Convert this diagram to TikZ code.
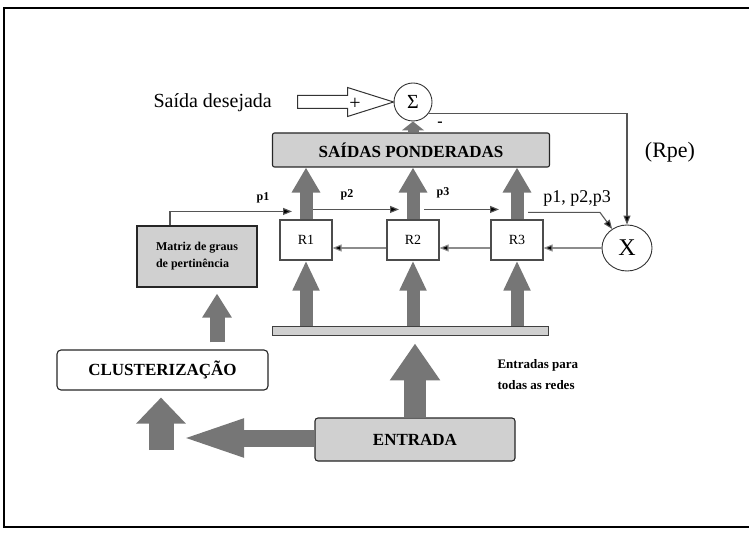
\documentclass[tikz,border=0pt]{standalone}
\usepackage{fontspec}
\setmainfont{Liberation Serif}
\usetikzlibrary{arrows.meta,shapes.geometric,calc}
\definecolor{fatgray}{RGB}{118,118,118}
\definecolor{boxgray}{RGB}{208,208,208}
\definecolor{linegray}{RGB}{85,85,85}
\begin{document}
\begin{tikzpicture}[x=1pt,y=-1pt,
  fa/.style n args={3}{draw=fatgray,line width=#1,-{Triangle[width=#2,length=#3,fill=fatgray]}},
  thinarr/.style={draw=linegray,line width=1.1pt,-{Triangle[width=7pt,length=9pt,fill=black]}},
  boxstyle/.style={draw=black!85,line width=1.1pt,inner sep=0pt},
  bigfont/.style={font=\fontsize{17}{19}\selectfont\bfseries},
  smallb/.style={font=\fontsize{12}{14}\selectfont\bfseries},
]
\useasboundingbox (0,0) rectangle (749,534);
% frame
\draw[line width=1.3pt] (749,8) -- (4,8) -- (4,527) -- (749,527);

% nodes
\node[font=\fontsize{20}{22}\selectfont,anchor=west] (sd) at (150,103) {Saída desejada};
\node[circle,draw=black!80,line width=0.9pt,minimum size=38pt,inner sep=0pt,font=\fontsize{20}{22}\selectfont] (sig) at (413,102) {Σ};
\node[boxstyle,fill=boxgray,rounded corners=2pt,minimum width=277pt,minimum height=34pt,bigfont] (sp) at (411,150) {SAÍDAS PONDERADAS};
\node[boxstyle,fill=white,draw=black!70,minimum width=52pt,minimum height=40pt,font=\fontsize{14}{16}\selectfont] (r1) at (306,240) {R1};
\node[boxstyle,fill=white,draw=black!70,minimum width=52pt,minimum height=40pt,font=\fontsize{14}{16}\selectfont] (r2) at (413,240) {R2};
\node[boxstyle,fill=white,draw=black!70,minimum width=52pt,minimum height=40pt,font=\fontsize{14}{16}\selectfont] (r3) at (517,240) {R3};
\node[ellipse,draw=black!80,line width=0.9pt,minimum width=50pt,minimum height=46pt,inner sep=0pt,font=\fontsize{24}{26}\selectfont] (X) at (627,248) {X};
\node[boxstyle,fill=boxgray,minimum width=120pt,minimum height=61pt,align=left,smallb] (matriz) at (197,256.5) {Matriz de graus\\[3pt]de pertinência};
\node[boxstyle,fill=white,rounded corners=4pt,minimum width=211pt,minimum height=40pt,bigfont] (clust) at (162.5,370) {CLUSTERIZAÇÃO};
\node[boxstyle,fill=boxgray,rounded corners=3pt,minimum width=200pt,minimum height=43pt,bigfont] (entrada) at (415,439.5) {ENTRADA};
\node[draw=black!75,line width=0.9pt,fill=boxgray,minimum width=276pt,minimum height=9pt,inner sep=0pt] (bar) at (410,330.5) {};
\node[anchor=west,align=left,font=\fontsize{13}{21}\selectfont\bfseries] (ent) at (494,375) {Entradas para\\todas as redes};

% labels
\node[smallb] (lp1) at (263,198) {p1};
\node[smallb] (lp2) at (347,195) {p2};
\node[smallb] (lp3) at (443,193) {p3};
\node[font=\fontsize{18}{20}\selectfont] (lp123) at (577,198) {p1, p2,p3};
\node[font=\fontsize{22}{24}\selectfont] (rpe) at (670,152) {(Rpe)};
\node[font=\fontsize{16}{18}\selectfont\bfseries] (minus) at (440,124) {-};

% hollow arrow to sigma
\draw[line width=1pt,draw=black!80,fill=white] (sig.west) -- ++(-46,-14.5) -- ++(0,8) -- ++(-50,0) -- ++(0,13) -- ++(50,0) -- ++(0,8) -- cycle;
\node[font=\fontsize{20}{22}\selectfont] (plus) at (355,104) {+};

% fat arrows
\draw[fa={11pt}{22pt}{9pt}] (sp.north -| sig) -- (sig.south);
\foreach \r in {r1,r2,r3}{
  \draw[fa={13pt}{27pt}{25pt}] (\r.north) -- (\r.north |- sp.south);
  \draw[fa={13pt}{25pt}{30pt}] (\r.south |- bar.north) -- (\r.south);
}
\draw[fa={22pt}{48pt}{37pt}] (entrada.north) -- ($(bar.south -| entrada)+(0,8)$);
\coordinate (lt) at (177,438);
\draw[fa={17pt}{33pt}{67pt}] (entrada.west |- lt) -- (lt);
\coordinate (cb) at (161,450);
\draw[fa={25pt}{48pt}{26pt}] (cb) -- ($(clust.south -| cb)+(0,7)$);
\coordinate (ca) at (217,0);
\draw[fa={15pt}{28pt}{24pt}] ($(clust.north -| ca)+(0,-7)$) -- ($(matriz.south -| ca)+(0,6)$);

% thin arrows
\coordinate (p1s) at (170,0);
\draw[thinarr] (matriz.north -| p1s) |- ($(r1.north)+(-14,-8)$);
\draw[thinarr] ($(r1.north)+(7,-10)$) -- ($(r2.north)+(-14,-10)$);
\draw[thinarr] ($(r2.north)+(11,-10)$) -- ($(r3.north)+(-18,-10)$);
\draw[thinarr] ($(r3.north)+(11,-7)$) -- ++(72,0) -- (X.128);
\draw[thinarr] (sig.-35) -| (X.north);
\draw[thinarr,draw=black!45] (X.west) -- (X.west -| r3.east);
\draw[thinarr,draw=black!45] (r3.west |- X.west) -- (r2.east |- X.west);
\draw[thinarr,draw=black!45] (r2.west |- X.west) -- (r1.east |- X.west);
\end{tikzpicture}
\end{document}
